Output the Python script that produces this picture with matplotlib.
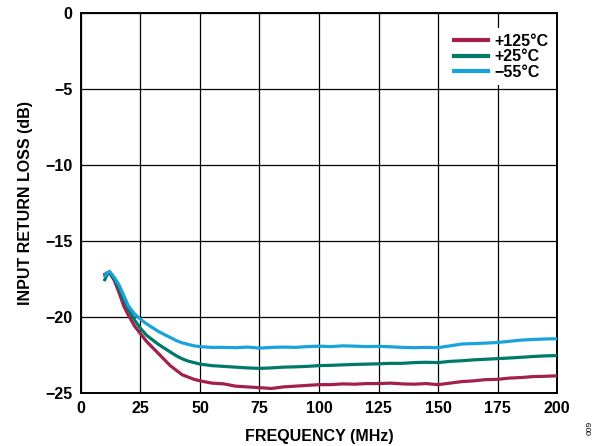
import numpy as np
import matplotlib.pyplot as plt

plt.rcParams['font.family'] = ['Liberation Sans', 'DejaVu Sans']
plt.rcParams['font.weight'] = 'bold'

# frequency (MHz)
freq = [10, 11, 12, 14, 16, 18, 20, 22.5, 25, 27.5, 30, 32.5, 35, 37.5, 40, 42.5,
        45, 47.5, 50, 55, 60, 65, 70, 75, 80, 85, 90, 95, 100, 105, 110, 115, 120,
        125, 130, 135, 140, 145, 150, 155, 160, 165, 170, 175, 180, 185, 190, 195, 200]

# input return loss (dB)
rl_125 = [-17.2, -17.1, -17.1, -17.6, -18.4, -19.3, -19.9, -20.6, -21.1, -21.6, -22.0,
          -22.4, -22.8, -23.2, -23.5, -23.8, -23.95, -24.1, -24.2, -24.35, -24.4, -24.55,
          -24.6, -24.65, -24.7, -24.6, -24.55, -24.5, -24.45, -24.45, -24.4, -24.42,
          -24.38, -24.38, -24.35, -24.4, -24.42, -24.38, -24.45, -24.35, -24.25, -24.2,
          -24.12, -24.1, -24.02, -23.98, -23.92, -23.9, -23.87]
rl_25 = [-17.55, -17.2, -17.1, -17.5, -18.1, -18.9, -19.5, -20.2, -20.75, -21.2, -21.5,
         -21.8, -22.05, -22.3, -22.55, -22.75, -22.9, -23.0, -23.1, -23.2, -23.25, -23.3,
         -23.35, -23.38, -23.35, -23.3, -23.28, -23.25, -23.2, -23.18, -23.15, -23.12,
         -23.1, -23.08, -23.05, -23.05, -23.0, -22.98, -23.0, -22.92, -22.88, -22.82,
         -22.78, -22.74, -22.7, -22.65, -22.6, -22.56, -22.54]
rl_m55 = [-17.3, -17.1, -17.0, -17.4, -17.9, -18.6, -19.3, -19.8, -20.15, -20.45, -20.7,
          -20.95, -21.15, -21.35, -21.55, -21.7, -21.8, -21.9, -21.95, -22.0, -22.0,
          -22.02, -21.98, -22.05, -22.0, -21.98, -22.0, -21.95, -21.92, -21.95, -21.9,
          -21.92, -21.95, -21.93, -21.96, -22.0, -22.02, -22.0, -22.02, -21.9, -21.78,
          -21.75, -21.72, -21.68, -21.6, -21.52, -21.48, -21.45, -21.43]

labels = ["+125°C", "+25°C", "\u221255°C"]
colors = ["#A3204D", "#00796B", "#1AA3DB"]

fig = plt.figure(figsize=(5.99, 4.46), dpi=100)
ax = fig.add_axes([0.1352, 0.1188, 0.7947, 0.8527])

for y, lab, c in zip([rl_125, rl_25, rl_m55], labels, colors):
    ax.plot(freq, y, color=c, lw=2.3, label=lab, zorder=3)

ax.set_xlim(0, 200)
ax.set_ylim(-25, 0)
ax.set_xticks(np.arange(0, 201, 25))
ax.set_yticks(np.arange(-25, 1, 5))
ax.set_yticklabels([str(v).replace("-", "\u2212") for v in range(-25, 1, 5)])
ax.tick_params(length=0, labelsize=11.5, pad=6)
for lbl in ax.get_xticklabels() + ax.get_yticklabels():
    lbl.set_fontweight('bold')
ax.grid(True, color='black', lw=0.9)
for s in ax.spines.values():
    s.set_linewidth(1.4)

ax.set_xlabel("FREQUENCY (MHz)", fontsize=11.5, fontweight='bold', labelpad=9)
ax.set_ylabel("INPUT RETURN LOSS (dB)", fontsize=11.5, fontweight='bold', labelpad=9)

leg = ax.legend(loc='upper right', bbox_to_anchor=(1.01, 0.98), fontsize=11.5,
                handlelength=2.1, handletextpad=0.4, labelspacing=0.02,
                frameon=True, fancybox=False, borderpad=0.35)
leg.get_frame().set_edgecolor('none')
leg.get_frame().set_facecolor('white')
leg.get_frame().set_alpha(1)
for t in leg.get_texts():
    t.set_fontweight('bold')
for h in leg.get_lines():
    h.set_linewidth(3)

fig.text(0.985, 0.04, "009", rotation=90, fontsize=6, fontweight='normal',
         ha='center', va='center')

fig.savefig("out.png", dpi=100)
